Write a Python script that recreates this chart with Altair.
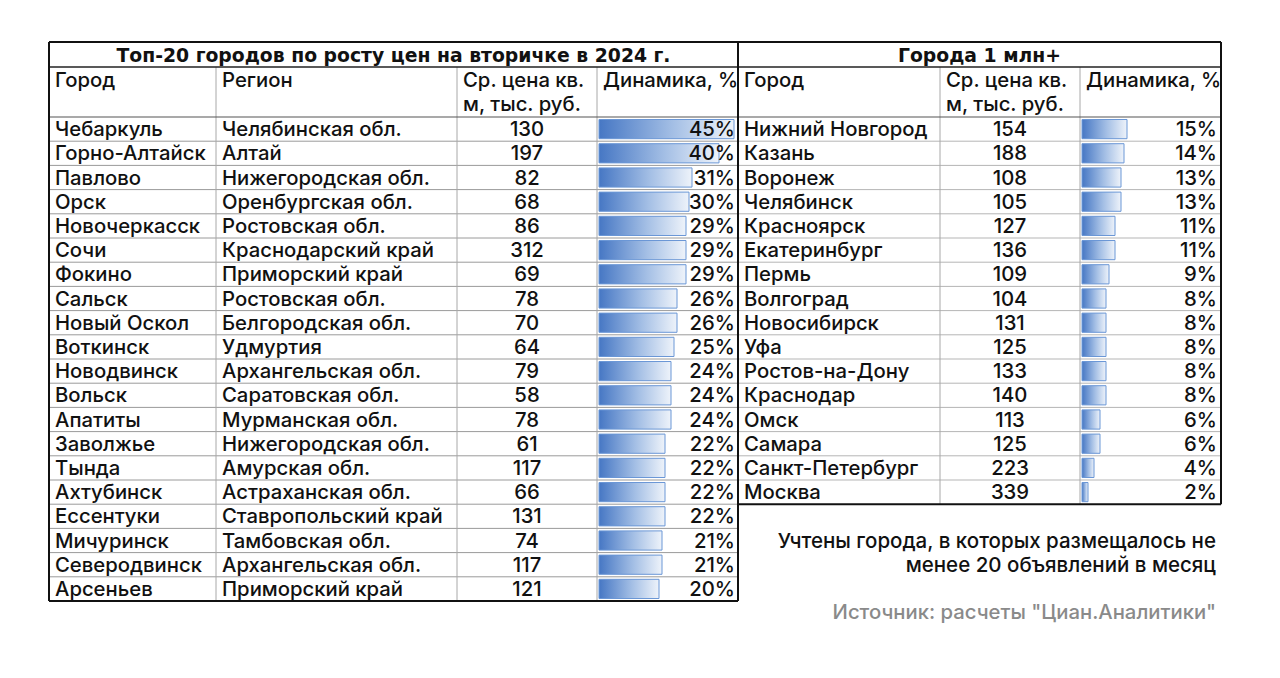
import altair as alt
import pandas as pd

# ---------------- data ----------------
left_title = "Топ-20 городов по росту цен на вторичке в 2024 г."
right_title = "Города 1 млн+"
left_headers = ["Город", "Регион", "Ср. цена кв.|м, тыс. руб.", "Динамика, %"]
right_headers = ["Город", "Ср. цена кв.|м, тыс. руб.", "Динамика, %"]

left_cities = ["Чебаркуль", "Горно-Алтайск", "Павлово", "Орск", "Новочеркасск", "Сочи",
               "Фокино", "Сальск", "Новый Оскол", "Воткинск", "Новодвинск", "Вольск",
               "Апатиты", "Заволжье", "Тында", "Ахтубинск", "Ессентуки", "Мичуринск",
               "Северодвинск", "Арсеньев"]
left_regions = ["Челябинская обл.", "Алтай", "Нижегородская обл.", "Оренбургская обл.",
                "Ростовская обл.", "Краснодарский край", "Приморский край", "Ростовская обл.",
                "Белгородская обл.", "Удмуртия", "Архангельская обл.", "Саратовская обл.",
                "Мурманская обл.", "Нижегородская обл.", "Амурская обл.", "Астраханская обл.",
                "Ставропольский край", "Тамбовская обл.", "Архангельская обл.", "Приморский край"]
left_prices = [130, 197, 82, 68, 86, 312, 69, 78, 70, 64, 79, 58, 78, 61, 117, 66, 131, 74, 117, 121]
left_growth = [45, 40, 31, 30, 29, 29, 29, 26, 26, 25, 24, 24, 24, 22, 22, 22, 22, 21, 21, 20]

right_cities = ["Нижний Новгород", "Казань", "Воронеж", "Челябинск", "Красноярск",
                "Екатеринбург", "Пермь", "Волгоград", "Новосибирск", "Уфа", "Ростов-на-Дону",
                "Краснодар", "Омск", "Самара", "Санкт-Петербург", "Москва"]
right_prices = [154, 188, 108, 105, 127, 136, 109, 104, 131, 125, 133, 140, 113, 125, 223, 339]
right_growth = [15, 14, 13, 13, 11, 11, 9, 8, 8, 8, 8, 8, 6, 6, 4, 2]

note_lines = ["Учтены города, в которых размещалось не", "менее 20 объявлений в месяц"]
source_text = 'Источник: расчеты "Циан.Аналитики"'

# ---------------- layout ----------------
W, H = 1264, 662
OFF = 8
TOP, TITLE_B, HEAD_B, ROW_H = 42, 67, 117, 24.2
LCOLS = [49, 216, 457, 597, 738]
RCOLS = [738, 940, 1080, 1221]
PAD = 6
PX_PER_PCT = 3.0
FONT = "Inter"
FS = 20.3
TY = 1.0  # vertical text nudge

n_left = len(left_cities)
n_right = len(right_cities)
left_bottom = HEAD_B + ROW_H * n_left
right_bottom = HEAD_B + ROW_H * n_right


def row_mid(i):
    return HEAD_B + ROW_H * (i + 0.5) + TY


# lines
lines = []
def add_line(x, x2, y, y2, color, w):
    lines.append(dict(x=x, x2=x2, y=y, y2=y2, color=color, w=w))

for k in range(1, n_left):
    add_line(LCOLS[0], LCOLS[-1], HEAD_B + ROW_H * k, HEAD_B + ROW_H * k, "#9a9a9a", 1)
for k in range(1, n_right):
    add_line(RCOLS[0], RCOLS[-1], HEAD_B + ROW_H * k, HEAD_B + ROW_H * k, "#b5b5b5", 1)
for c in LCOLS[1:-1]:
    add_line(c, c, TITLE_B, left_bottom, "#a8a8a8", 1)
for c in RCOLS[1:-1]:
    add_line(c, c, TITLE_B, right_bottom, "#a8a8a8", 1)
add_line(LCOLS[0], RCOLS[-1], HEAD_B, HEAD_B, "#555555", 1.2)
add_line(LCOLS[0], RCOLS[-1], TITLE_B, TITLE_B, "#222222", 1.5)
add_line(LCOLS[0], RCOLS[-1], TOP, TOP, "#111111", 2)
add_line(LCOLS[0], LCOLS[0], TOP, left_bottom, "#111111", 2)
add_line(LCOLS[0], LCOLS[-1], left_bottom, left_bottom, "#111111", 2)
add_line(LCOLS[-1], LCOLS[-1], TOP, left_bottom, "#111111", 2)
add_line(RCOLS[-1], RCOLS[-1], TOP, right_bottom, "#111111", 2)
add_line(RCOLS[0], RCOLS[-1], right_bottom, right_bottom, "#111111", 2)
lines_df = pd.DataFrame(lines)

# texts
t_left, t_center, t_right, t_bold, t_note, t_src = [], [], [], [], [], []

t_bold.append(dict(x=(LCOLS[0] + LCOLS[-1]) / 2, y=(TOP + TITLE_B) / 2 + TY, t=left_title))
t_bold.append(dict(x=(RCOLS[0] + RCOLS[-1]) / 2, y=(TOP + TITLE_B) / 2 + TY, t=right_title))

for headers, cols in ((left_headers, LCOLS), (right_headers, RCOLS)):
    for h, c in zip(headers, cols[:-1]):
        for j, part in enumerate(h.split("|")):
            t_left.append(dict(x=c + PAD, y=80 + TY + 24 * j, t=part))

for i in range(n_left):
    y = row_mid(i)
    t_left.append(dict(x=LCOLS[0] + PAD, y=y, t=left_cities[i]))
    t_left.append(dict(x=LCOLS[1] + PAD, y=y, t=left_regions[i]))
    t_center.append(dict(x=(LCOLS[2] + LCOLS[3]) / 2, y=y, t=str(left_prices[i])))
    t_right.append(dict(x=LCOLS[4] - 3, y=y, t=f"{left_growth[i]}%"))
for i in range(n_right):
    y = row_mid(i)
    t_left.append(dict(x=RCOLS[0] + PAD, y=y, t=right_cities[i]))
    t_center.append(dict(x=(RCOLS[1] + RCOLS[2]) / 2, y=y, t=str(right_prices[i])))
    t_right.append(dict(x=RCOLS[3] - 4, y=y, t=f"{right_growth[i]}%"))

for j, s in enumerate(note_lines):
    t_note.append(dict(x=1216, y=541 + TY + 24 * j, t=s))
t_src.append(dict(x=1216, y=612 + TY, t=source_text))

# bars
bars = []
for i, g in enumerate(left_growth):
    bars.append(dict(start=LCOLS[3] + 2, pct=g, top=HEAD_B + ROW_H * i + 2.5,
                     bot=HEAD_B + ROW_H * (i + 1) - 2.5))
for i, g in enumerate(right_growth):
    bars.append(dict(start=RCOLS[2] + 2, pct=g, top=HEAD_B + ROW_H * i + 2.5,
                     bot=HEAD_B + ROW_H * (i + 1) - 2.5))
bars_df = pd.DataFrame(bars)

xs = alt.Scale(domain=[OFF, OFF + W], range=[0, W])
ys = alt.Scale(domain=[OFF, OFF + H], reverse=True)
X = lambda f: alt.X(f, type="quantitative", scale=xs, axis=None)
Y = lambda f: alt.Y(f, type="quantitative", scale=ys, axis=None)

grad = alt.Gradient(
    gradient="linear",
    stops=[alt.GradientStop(color="#4677c4", offset=0),
           alt.GradientStop(color="#a4bfe5", offset=0.55),
           alt.GradientStop(color="#eef3fa", offset=1)],
    x1=0, x2=1, y1=0, y2=0,
)

bar_layer = alt.Chart(bars_df).transform_calculate(
    end=f"datum.start + datum.pct * {PX_PER_PCT}"
).mark_rect(fill=grad, stroke="#6b97d6", strokeWidth=1).encode(
    x=X("start"), x2="end:Q", y=Y("top"), y2="bot:Q"
)

line_layer = alt.Chart(lines_df).mark_rule().encode(
    x=X("x"), x2="x2:Q", y=Y("y"), y2="y2:Q",
    color=alt.Color("color:N", scale=None),
    strokeWidth=alt.StrokeWidth("w:Q", scale=None),
)


def text_layer(rows, align, weight, color="#111111", size=FS, font=FONT):
    return alt.Chart(pd.DataFrame(rows)).mark_text(
        align=align, baseline="middle", font=font, fontSize=size,
        fontWeight=weight, color=color
    ).encode(x=X("x"), y=Y("y"), text="t:N")


chart = alt.layer(
    bar_layer,
    line_layer,
    text_layer(t_left, "left", 500),
    text_layer(t_center, "center", 500),
    text_layer(t_right, "right", 500),
    text_layer(t_bold, "center", 700, size=18.8, font="DejaVu Sans"),
    text_layer(t_note, "right", 500, size=20.5),
    text_layer(t_src, "right", 500, color="#8a8a8a"),
).properties(
    width=W, height=H, padding=0, autosize=alt.AutoSizeParams(type="none")
).configure_view(stroke=None)

chart.save("out.html", embed_options={"renderer": "svg", "actions": False})
